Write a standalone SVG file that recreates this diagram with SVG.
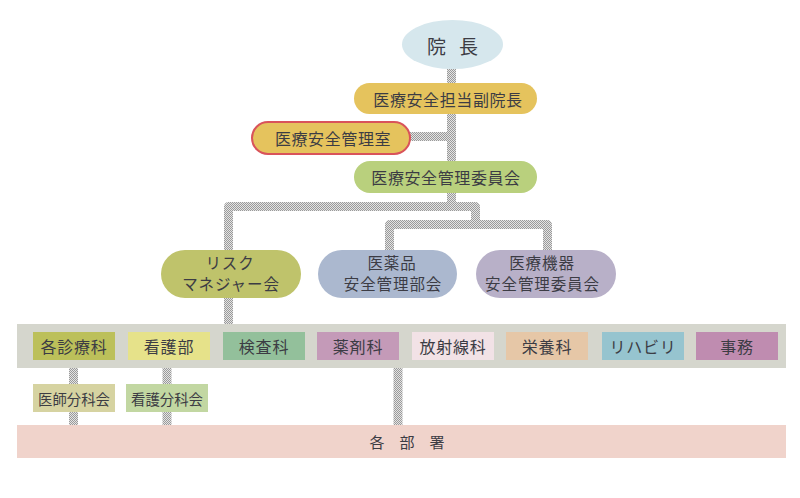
<svg xmlns="http://www.w3.org/2000/svg" width="800" height="498" viewBox="0 0 800 498">
<defs>
<pattern id="chk" patternUnits="userSpaceOnUse" width="2" height="2">
<rect width="2" height="2" fill="#e4e4e4"/>
<rect width="1" height="1" fill="#9a9a9a"/>
<rect x="1" y="1" width="1" height="1" fill="#9a9a9a"/>
</pattern>
</defs>
<style>
text{font-family:"Noto Sans CJK JP","Noto Sans",sans-serif;fill:#3c3c44;text-anchor:middle;dominant-baseline:central}
.t16{font-size:16px;letter-spacing:0.6px}
.t2l{font-size:15.5px;letter-spacing:0.9px}
.t15{font-size:16px;letter-spacing:0.8px}
.t14{font-size:14.4px}
.ln{fill:none;stroke:url(#chk);stroke-width:9;stroke-linejoin:round}
</style>
<rect width="800" height="498" fill="#ffffff"/>
<g id="connectors">
<path class="ln" d="M451.5 69 V206.5"/>
<path class="ln" d="M410 136.5 H451.5"/>
<path class="ln" d="M228.5 324 V206.5 H475.5 V224.5 H389.5 V250 M475.5 224.5 H547.5 V250"/>
<path class="ln" d="M73.5 368 V425 M167 368 V425 M398 368 V425"/>
</g>
<g id="director">
<ellipse cx="452.5" cy="44.5" rx="50.5" ry="24.5" fill="#d6e7ed"/>
<text x="451" y="45" style="font-size:19px;letter-spacing:-3px">院　長</text>
</g>
<g id="vice-director">
<rect x="354" y="83" width="183" height="31" rx="15.5" fill="#e5c35d"/>
<text class="t16" x="448" y="98.5">医療安全担当副院長</text>
</g>
<g id="safety-office">
<rect x="252" y="122" width="158" height="32" rx="16" fill="#e5c35d" stroke="#d9535a" stroke-width="2"/>
<text class="t16" x="333" y="138">医療安全管理室</text>
</g>
<g id="safety-committee">
<rect x="354" y="161" width="183" height="32" rx="16" fill="#b9d07d"/>
<text class="t16" x="446" y="177">医療安全管理委員会</text>
</g>
<g id="risk-manager">
<rect x="161" y="250" width="140" height="48" rx="24" fill="#bfc36b"/>
<text class="t2l" x="230" y="262">リスク</text>
<text class="t2l" x="231" y="283">マネジャー会</text>
</g>
<g id="drug-safety">
<rect x="318" y="250" width="139" height="48" rx="24" fill="#abb8cf"/>
<text class="t2l" x="392" y="262">医薬品</text>
<text class="t2l" x="393" y="283">安全管理部会</text>
</g>
<g id="device-safety">
<rect x="476" y="250" width="140" height="48" rx="24" fill="#b8b0c8"/>
<text class="t2l" x="542" y="262">医療機器</text>
<text class="t2l" x="542.5" y="283">安全管理委員会</text>
</g>
<g id="departments">
<rect x="17" y="324" width="769" height="44" fill="#d5d6cd"/>
</g>
<g id="dept-clinical"><rect x="33" y="332" width="82" height="28" fill="#bcc05a"/><text class="t15" x="74" y="346">各診療科</text></g>
<g id="dept-nursing"><rect x="128" y="332" width="82" height="28" fill="#e6e28a"/><text class="t15" x="169" y="346">看護部</text></g>
<g id="dept-lab"><rect x="223" y="332" width="82" height="28" fill="#93c09b"/><text class="t15" x="264" y="346">検査科</text></g>
<g id="dept-pharmacy"><rect x="317" y="332" width="82" height="28" fill="#c49ab8"/><text class="t15" x="358" y="346">薬剤科</text></g>
<g id="dept-radiology"><rect x="412" y="332" width="82" height="28" fill="#f2e2e6"/><text class="t15" x="453" y="346">放射線科</text></g>
<g id="dept-nutrition"><rect x="506" y="332" width="82" height="28" fill="#e6c7a7"/><text class="t15" x="547" y="346">栄養科</text></g>
<g id="dept-rehab"><rect x="602" y="332" width="82" height="28" fill="#96c4cf"/><text class="t15" x="643" y="346">リハビリ</text></g>
<g id="dept-admin"><rect x="696" y="332" width="82" height="28" fill="#bf8cb0"/><text class="t15" x="737" y="346">事務</text></g>
<g id="sub-doctors"><rect x="33" y="384" width="82" height="28" fill="#d6d3a1"/><text class="t14" x="74" y="398">医師分科会</text></g>
<g id="sub-nursing"><rect x="126" y="384" width="82" height="28" fill="#c2d7a2"/><text class="t14" x="167" y="398">看護分科会</text></g>
<g id="all-departments">
<rect x="17" y="425" width="769" height="33" fill="#f0d3cb"/>
<text x="407" y="441" style="font-size:15px">各　部　署</text>
</g>
</svg>
